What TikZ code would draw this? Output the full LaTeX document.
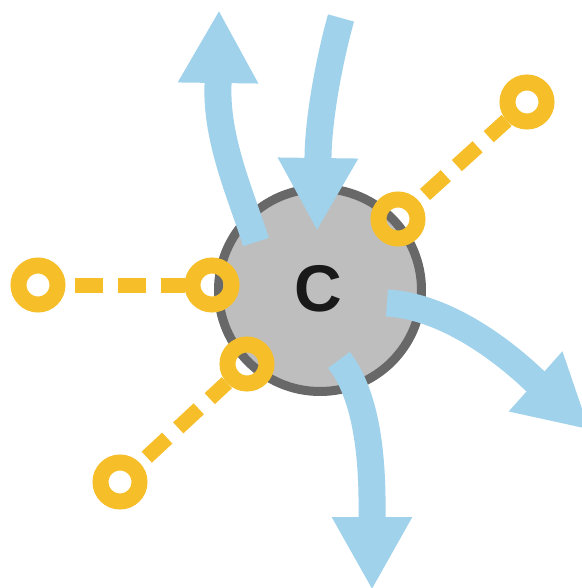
\documentclass[tikz,border=0pt]{standalone}
\usepackage{fontspec}
\setmainfont{Liberation Sans}
\usetikzlibrary{arrows.meta}
\definecolor{flow}{RGB}{160,210,236}
\definecolor{ring}{RGB}{246,190,40}
\definecolor{cfill}{RGB}{190,190,190}
\definecolor{cedge}{RGB}{104,104,104}
\begin{document}
\begin{tikzpicture}[x=1pt,y=-1pt,
  flowarrow/.style={draw=flow,line width=27pt,-{Triangle[width=75pt,length=73pt]}},
  ringnode/.style={circle,draw=ring,line width=16pt,minimum size=39pt,inner sep=0pt},
  ydash/.style={draw=ring,line width=15pt,dash pattern=on 28pt off 15pt,dash phase=34pt},
  core/.style={circle,minimum size=203pt,inner sep=0pt,fill=cfill,draw=cedge,line width=9pt}
]
\useasboundingbox[fill=white] (0,0) rectangle (581,588);
% central circle
\node[core] (c) at (320,290) {};
\node[font=\fontsize{66}{66}\selectfont\bfseries,text=black!90,inner sep=0pt] (lbl) at (318,289) {C};
% flow arrows
\coordinate (s1) at (256,242); \coordinate (b1) at (218,85);  \coordinate (t1) at (219,10);
\coordinate (s2) at (341,18);  \coordinate (b2) at (318,156); \coordinate (t2) at (317,231);
\coordinate (s3) at (387,303); \coordinate (b3) at (534,380); \coordinate (t3) at (590,430);
\coordinate (s4) at (339,360); \coordinate (b4) at (372,515); \coordinate (t4) at (372,590);
\draw[flowarrow] (s1) .. controls (241,195) and (216,140) .. (b1) -- (t1);
\draw[flowarrow] (s2) .. controls (332,50) and (319,110) .. (b2) -- (t2);
\draw[flowarrow] (s3) .. controls (440,306) and (495,343) .. (b3) -- (t3);
\draw[flowarrow] (s4) .. controls (362,390) and (373,440) .. (b4) -- (t4);
% yellow rings
\node[ringnode] (f1) at (38,285) {};
\node[ringnode] (n1) at (212,285) {};
\node[ringnode] (f2) at (120,482) {};
\node[ringnode] (n2) at (247,364) {};
\node[ringnode] (n3) at (398,219) {};
\node[ringnode] (f3) at (527,102) {};
\draw[ydash] (f1) -- (n1);
\draw[ydash] (f2) -- (n2);
\draw[ydash] (n3) -- (f3);
\end{tikzpicture}
\end{document}
